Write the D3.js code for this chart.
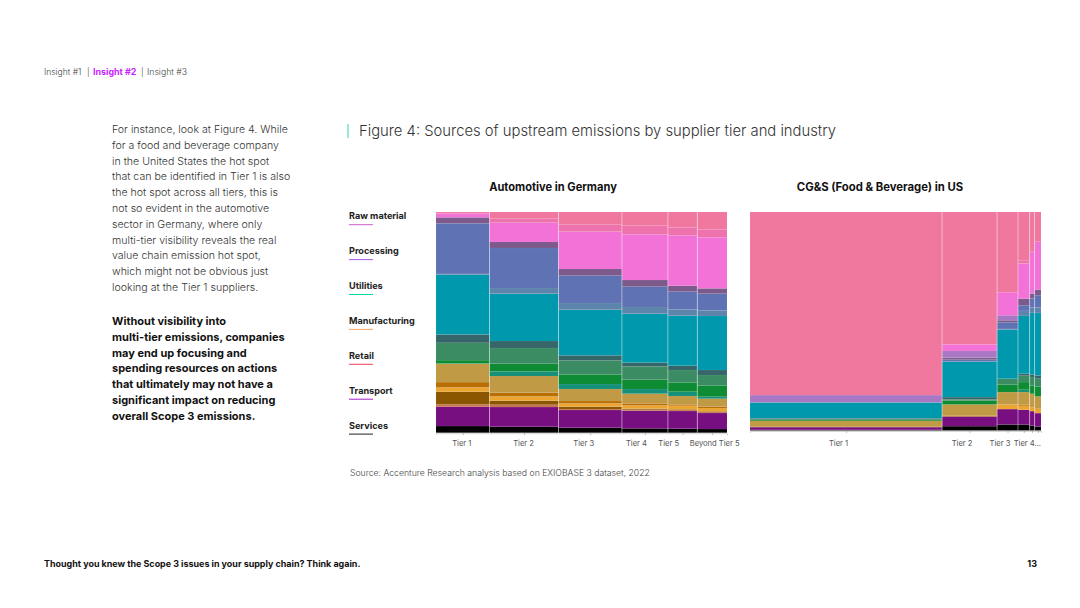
<!DOCTYPE html>
<html>
<head>
<meta charset="utf-8">
<script src="https://cdn.jsdelivr.net/npm/d3@7"></script>
<style>
  html, body { margin: 0; padding: 0; background: #fff; }
  svg { display: block; }
  text { font-family: Inter, "Noto Sans", sans-serif; }
</style>
</head>
<body>
<script>
// segments, top of the column first
var segments = ["rose", "deepRose", "magenta", "lavender", "plum", "blue", "steel", "teal", "slate",
  "green", "brightGreen", "seaGreen", "ochre", "orange", "amber", "brown", "salmon", "purple", "black"];

var autoTiers = ["Tier 1", "Tier 2", "Tier 3", "Tier 4", "Tier 5", "Beyond Tier 5"];
var autoTierShare = [18.4, 23.7, 21.8, 15.8, 10.1, 10.2];
var autoTier1 = [4, 0, 12, 0, 18, 152, 2, 180, 25, 52, 10, 1, 55, 16, 13, 38, 7, 58, 20];
var autoTier2 = [20, 12, 58, 0, 18, 120, 17, 142, 21, 47, 23, 14, 50, 11, 13, 12, 7, 59, 18];
var autoTier3 = [37, 22, 112, 0, 20, 82, 20, 137, 15, 42, 29, 15, 36, 7, 10, 7, 3, 53, 15];
var autoTier4 = [41, 26, 137, 0, 20, 61, 20, 147, 11, 40, 28, 14, 29, 6, 10, 3, 3, 53, 13];
var autoTier5 = [46, 24, 151, 0, 18, 53, 19, 150, 13, 37, 28, 13, 25, 4, 11, 2, 3, 53, 12];
var autoBeyond = [52, 24, 153, 0, 16, 50, 17, 162, 15, 31, 34, 6, 24, 4, 10, 2, 3, 48, 11];

var foodTiers = ["Tier 1", "Tier 2", "Tier 3", "Tier 4...", "", ""];
var foodTierShare = [66, 18.9, 7.2, 4, 1.7, 2.2];
var foodTier1 = [548, 0, 0, 22, 0, 0, 0, 47, 2, 3, 3, 0, 18, 1, 0, 0, 0, 8, 2];
var foodTier2 = [396, 0, 20, 20, 6, 4, 2, 106, 7, 3, 12, 0, 33, 3, 0, 0, 0, 29, 13];
var foodTier3 = [240, 0, 69, 15, 6, 20, 2, 147, 0, 18, 22, 0, 37, 0, 14, 0, 0, 46, 18];
var foodTier4 = [146, 8, 105, 0, 20, 17, 15, 173, 6, 19, 23, 7, 37, 4, 12, 0, 0, 44, 18];
var foodTier5 = [119, 0, 125, 0, 15, 27, 16, 184, 8, 25, 25, 0, 40, 0, 12, 0, 0, 43, 15];
var foodBeyond = [89, 0, 143, 0, 17, 37, 16, 187, 10, 23, 30, 0, 37, 0, 13, 0, 0, 40, 12];

var legendNames = ["Raw material", "Processing", "Utilities", "Manufacturing", "Retail", "Transport", "Services"];

var segmentColors = ["#f0789f", "#ee72ab", "#f272d8", "#a878c4", "#7c5a8c", "#5f72b3", "#5d85ac", "#0098ac", "#36666a",
  "#3b8c62", "#0e8c34", "#179079", "#c09a45", "#ba6f05", "#eca531", "#8b5600", "#c9744f", "#770f80", "#000000"];
var legendColors = ["#c95fd0", "#a65cf0", "#00d6a0", "#f4a460", "#f0405a", "#a020c8", "#222222"];

var introLines = ["For instance, look at Figure 4. While", "for a food and beverage company",
  "in the United States the hot spot", "that can be identified in Tier 1 is also",
  "the hot spot across all tiers, this is", "not so evident in the automotive",
  "sector in Germany, where only", "multi-tier visibility reveals the real",
  "value chain emission hot spot,", "which might not be obvious just", "looking at the Tier 1 suppliers."];
var boldLines = ["Without visibility into", "multi-tier emissions, companies", "may end up focusing and",
  "spending resources on actions", "that ultimately may not have a", "significant impact on reducing",
  "overall Scope 3 emissions."];

var svg = d3.select("body").append("svg")
  .attr("width", 1080)
  .attr("height", 608);

var color = d3.scaleOrdinal().domain(segments).range(segmentColors);

function drawPanel(tiers, shares, columns, left, right, bottom, labelY, labelShift) {
  var rows = columns.map(function(col) {
    var row = {};
    segments.forEach(function(s, i) { row[s] = col[i]; });
    return row;
  });
  // order reversed so the first segment ends up on top
  var stacked = d3.stack().keys(segments.slice().reverse()).offset(d3.stackOffsetExpand)(rows);
  var edges = [0].concat(Array.from(d3.cumsum(shares)));
  var x = d3.scaleLinear().domain([0, d3.sum(shares)]).range([left, right]);
  var y = d3.scaleLinear().domain([0, 1]).range([bottom, 212]);

  var g = svg.append("g");
  g.selectAll("g.seg").data(stacked).join("g")
    .attr("class", "seg")
    .attr("fill", function(d) { return color(d.key); })
    .selectAll("rect").data(function(d) { return d; }).join("rect")
    .attr("x", function(d, i) { return x(edges[i]); })
    .attr("width", function(d, i) { return x(edges[i + 1]) - x(edges[i]); })
    .attr("y", function(d) { return y(d[1]); })
    .attr("height", function(d) { return y(d[0]) - y(d[1]); })
    .attr("stroke", "rgba(255,255,255,0.07)")
    .attr("stroke-width", 0.6);

  g.selectAll("line.divider").data(edges.slice(1, -1)).join("line")
    .attr("class", "divider")
    .attr("x1", function(d) { return x(d); })
    .attr("x2", function(d) { return x(d); })
    .attr("y1", 212)
    .attr("y2", bottom)
    .attr("stroke", "#fff")
    .attr("stroke-opacity", 0.4)
    .attr("stroke-width", 1);

  var mids = shares.map(function(d, i) { return edges[i] + d / 2; });
  var axis = d3.axisBottom(x)
    .tickValues(mids)
    .tickSize(2)
    .tickFormat(function(d, i) { return tiers[i]; });
  var ax = g.append("g")
    .attr("transform", "translate(0," + (bottom + 0.5) + ")")
    .call(axis);
  ax.select(".domain").attr("stroke", "#bbb").attr("stroke-width", 0.6);
  ax.selectAll(".tick line").attr("stroke", "#999").attr("stroke-width", 0.6);
  ax.selectAll(".tick text")
    .attr("y", labelY)
    .attr("dx", function(d, i) { return labelShift[i]; })
    .attr("fill", "#555")
    .style("font-size", "7.6px")
    .style("font-family", "Inter, sans-serif");
}

drawPanel(autoTiers, autoTierShare, [autoTier1, autoTier2, autoTier3, autoTier4, autoTier5, autoBeyond],
  436, 727, 432.7, 7, [-1.5, -1, -7, -9, -14.5, 2]);
drawPanel(foodTiers, foodTierShare, [foodTier1, foodTier2, foodTier3, foodTier4, foodTier5, foodBeyond],
  750, 1041, 430.5, 9.5, [-8, -8, -8, 3, 0, 0]);

// legend
var legend = svg.selectAll("g.legend").data(legendNames).join("g")
  .attr("class", "legend")
  .attr("transform", function(d, i) { return "translate(349," + (219.3 + i * 34.9) + ")"; });
legend.append("text")
  .text(function(d) { return d; })
  .attr("font-size", 9.1)
  .attr("font-weight", 700)
  .attr("fill", "#222");
legend.append("line")
  .attr("x1", 0).attr("x2", 24)
  .attr("y1", 5.4).attr("y2", 5.4)
  .attr("stroke", function(d, i) { return legendColors[i]; })
  .attr("stroke-width", 1);

// text around the chart
function addText(str, px, py, size, weight, fill, anchor) {
  return svg.append("text")
    .text(str)
    .attr("x", px)
    .attr("y", py)
    .attr("font-size", size)
    .attr("font-weight", weight)
    .attr("fill", fill)
    .attr("text-anchor", anchor || "start");
}

addText("Insight #1", 44, 75, 8.5, 300, "#444");
addText("|", 87, 75, 8.3, 300, "#444");
addText("Insight #2", 93, 75, 8.9, 700, "#c81fff");
addText("|", 141, 75, 8.3, 300, "#444");
addText("Insight #3", 147, 75, 8.7, 300, "#444");

introLines.forEach(function(t, i) { addText(t, 112, 133 + i * 15.8, 10.6, 300, "#333"); });
boldLines.forEach(function(t, i) { addText(t, 112, 325 + i * 15.8, 11, 700, "#111"); });

svg.append("line")
  .attr("x1", 348).attr("x2", 348)
  .attr("y1", 124).attr("y2", 138)
  .attr("stroke", "#00c8a0")
  .attr("stroke-width", 0.8);
addText("Figure 4: Sources of upstream emissions by supplier tier and industry", 359, 136, 14.8, 300, "#333");

addText("Automotive in Germany", 553, 191, 11.1, 700, "#111", "middle");
addText("CG&S (Food & Beverage) in US", 880, 191, 11.3, 700, "#111", "middle");

addText("Source: Accenture Research analysis based on EXIOBASE 3 dataset, 2022", 350, 476, 8.68, 300, "#444");

addText("Thought you knew the Scope 3 issues in your supply chain? Think again.", 44, 567, 8.95, 700, "#111");
addText("13", 1037, 567, 9, 700, "#111", "end");
</script>
</body>
</html>
